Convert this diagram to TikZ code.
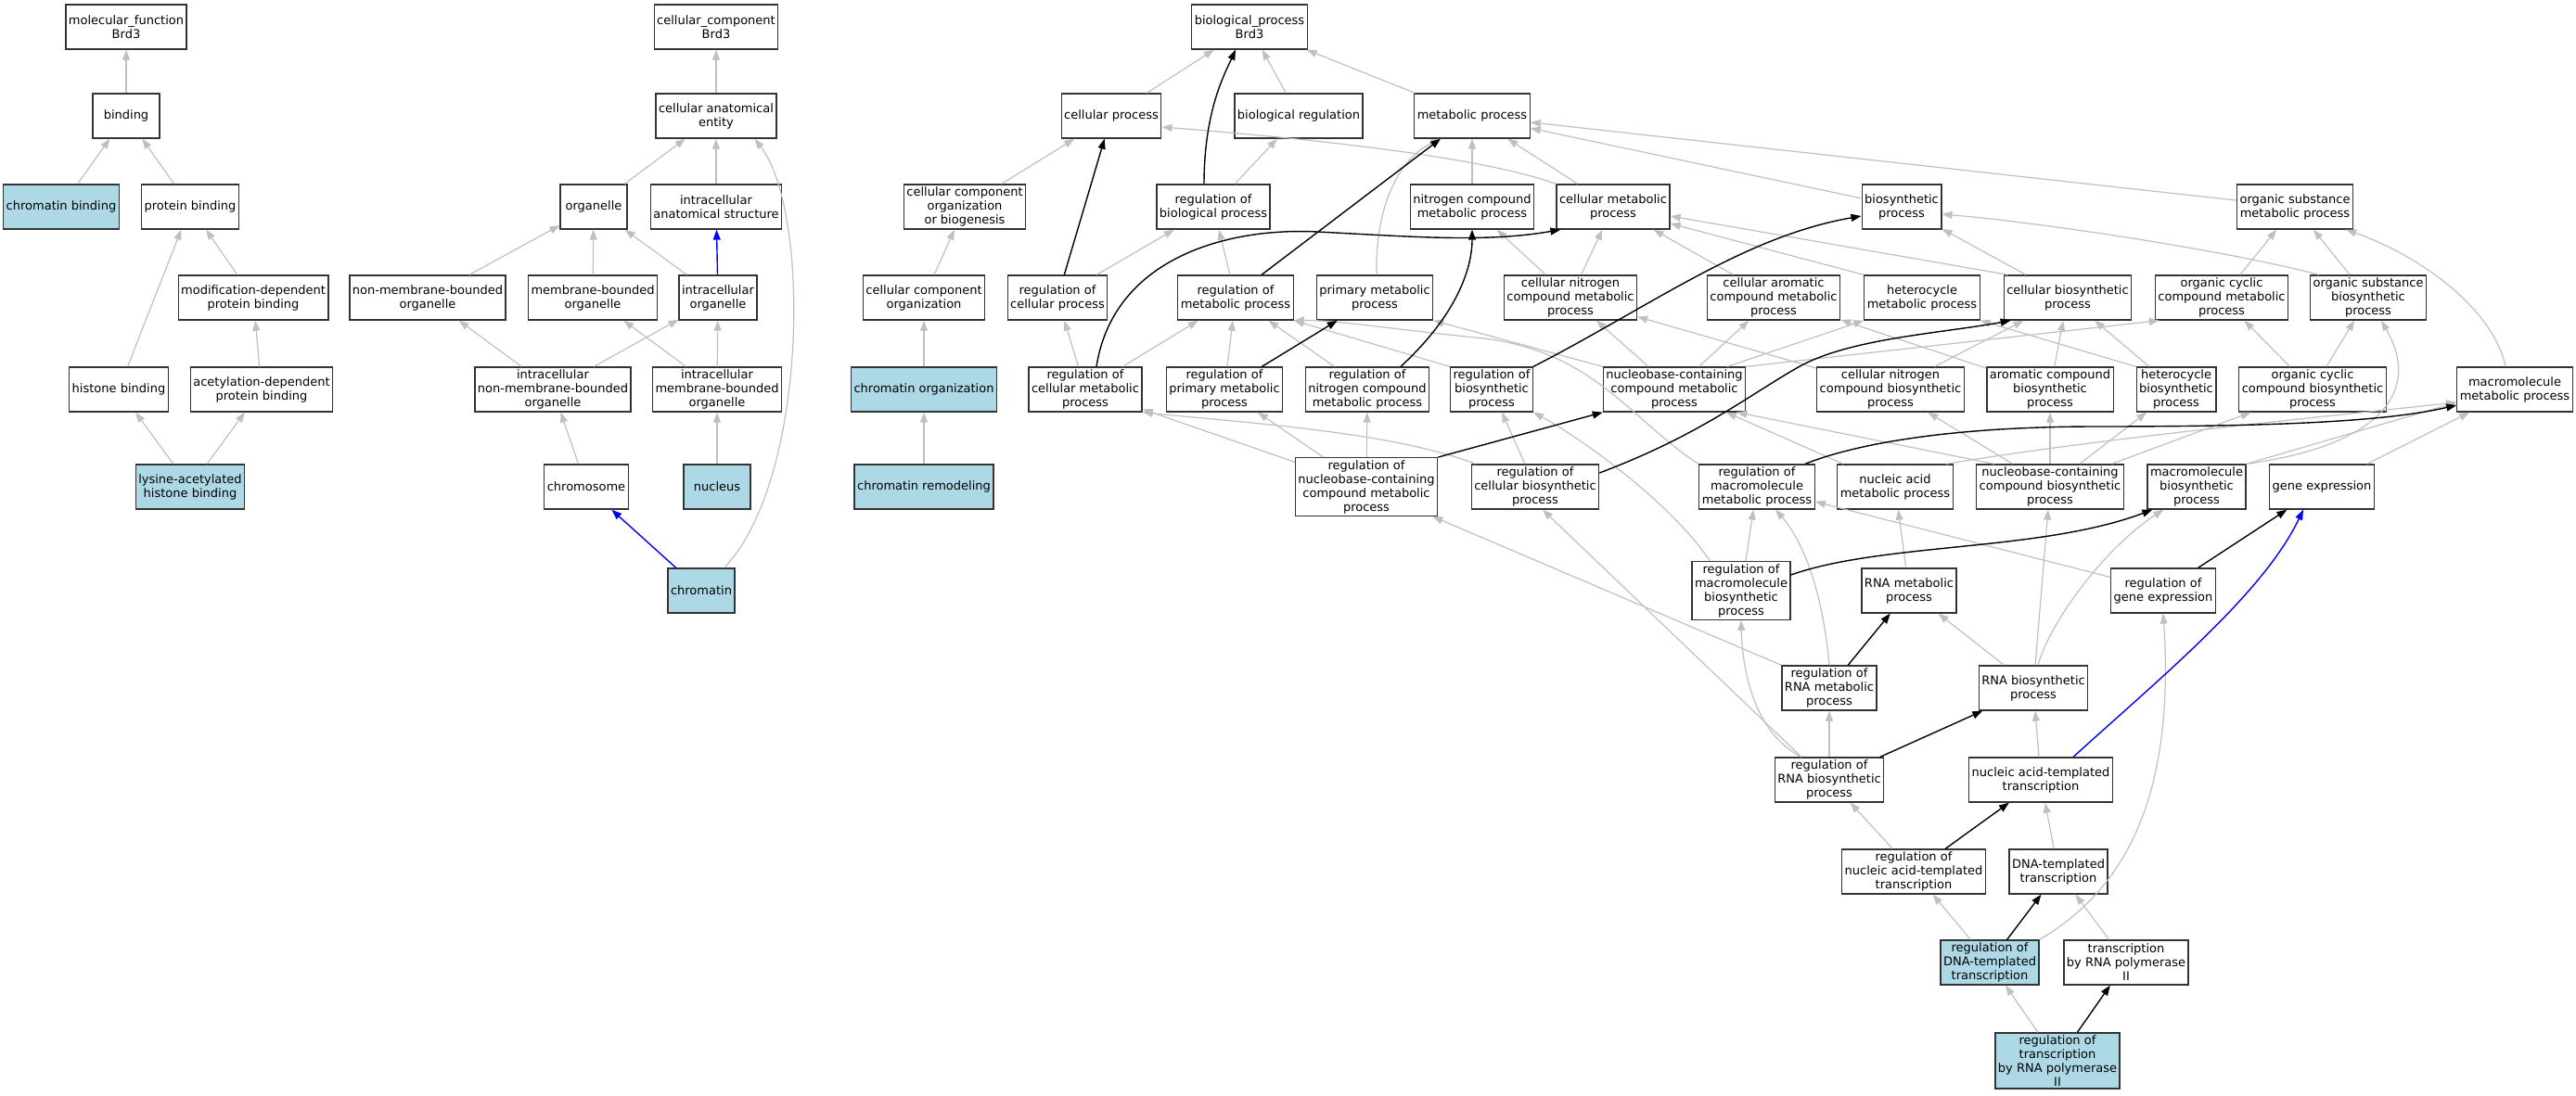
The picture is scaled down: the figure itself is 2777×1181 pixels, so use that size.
\documentclass[tikz,border=0pt]{standalone}
\usepackage{fontspec}
\setmainfont{DejaVu Sans}
\usetikzlibrary{arrows.meta}
\definecolor{hitblue}{HTML}{ADD8E6}
\definecolor{isagray}{HTML}{C0C0C0}
\tikzstyle{term}=[draw=black!80,line width=1.3pt,fill=white,align=center,minimum width=72pt,minimum height=48pt,inner xsep=3pt,inner ysep=2.5pt,font=\fontsize{13pt}{15pt}\selectfont]
\tikzstyle{hit}=[term,fill=hitblue]
\tikzstyle{isa}=[draw=isagray,line width=1.2pt,-{Triangle[length=11pt,width=8pt]}]
\tikzstyle{reg}=[draw=black,line width=1.4pt,-{Triangle[length=11pt,width=8pt]}]
\tikzstyle{partof}=[draw=blue,line width=1.4pt,-{Triangle[length=11pt,width=8pt]}]

\begin{document}
\begin{tikzpicture}[x=1pt,y=-1pt]
    \useasboundingbox (0,0) rectangle (2777,1181);
    % molecular function
    \node[term] (mf) at (136,29) {molecular\_function\\Brd3};
    \node[term] (bind) at (136,125) {binding};
    \node[hit] (chrbind) at (66,223) {chromatin binding};
    \node[term] (protbind) at (205,223) {protein binding};
    \node[term] (moddep) at (273,321) {modification-dependent\\protein binding};
    \node[term] (histbind) at (128,420) {histone binding};
    \node[term] (acetdep) at (282,420) {acetylation-dependent\\protein binding};
    \node[hit] (lysbind) at (205,525) {lysine-acetylated\\histone binding};
    % cellular component
    \node[term] (cc) at (772,29) {cellular\_component\\Brd3};
    \node[term] (cae) at (772,125) {cellular anatomical\\entity};
    \node[term] (organelle) at (640,223) {organelle};
    \node[term] (ias) at (772,223) {intracellular\\anatomical structure};
    \node[term] (nmbo) at (461,321) {non-membrane-bounded\\organelle};
    \node[term] (mbo) at (639,321) {membrane-bounded\\organelle};
    \node[term] (io) at (774,321) {intracellular\\organelle};
    \node[term] (inmbo) at (596,420) {intracellular\\non-membrane-bounded\\organelle};
    \node[term] (imbo) at (773,420) {intracellular\\membrane-bounded\\organelle};
    \node[term] (chromosome) at (632,525) {chromosome};
    \node[hit] (nucleus) at (773,525) {nucleus};
    \node[hit] (chromatin) at (756,637) {chromatin};
    % biological process
    \node[term] (bp) at (1347,29) {biological\_process\\Brd3};
    \node[term] (cp) at (1198,125) {cellular process};
    \node[term] (br) at (1400,125) {biological regulation};
    \node[term] (mp) at (1587,125) {metabolic process};
    \node[term] (ccob) at (1040,223) {cellular component\\organization\\or biogenesis};
    \node[term] (rbp) at (1308,223) {regulation of\\biological process};
    \node[term] (ncmp) at (1587,223) {nitrogen compound\\metabolic process};
    \node[term] (cmp) at (1739,223) {cellular metabolic\\process};
    \node[term] (bsp) at (2050,223) {biosynthetic\\process};
    \node[term] (osmp) at (2474,223) {organic substance\\metabolic process};
    \node[term] (cco) at (996,321) {cellular component\\organization};
    \node[term] (rcp) at (1140,321) {regulation of\\cellular process};
    \node[term] (rmp) at (1332,321) {regulation of\\metabolic process};
    \node[term] (pmp) at (1482,321) {primary metabolic\\process};
    \node[term] (cncmp) at (1693,321) {cellular nitrogen\\compound metabolic\\process};
    \node[term] (cacmp) at (1912,321) {cellular aromatic\\compound metabolic\\process};
    \node[term] (hmp) at (2072,321) {heterocycle\\metabolic process};
    \node[term] (cbp) at (2229,321) {cellular biosynthetic\\process};
    \node[term] (occmp) at (2395,321) {organic cyclic\\compound metabolic\\process};
    \node[term] (osbp) at (2553,321) {organic substance\\biosynthetic\\process};
    \node[hit] (chrorg) at (996,420) {chromatin organization};
    \node[term] (rcmp) at (1170,420) {regulation of\\cellular metabolic\\process};
    \node[term] (rpmp) at (1320,420) {regulation of\\primary metabolic\\process};
    \node[term] (rncmp) at (1474,420) {regulation of\\nitrogen compound\\metabolic process};
    \node[term] (rbsp) at (1608,420) {regulation of\\biosynthetic\\process};
    \node[term] (nccmp) at (1805,420) {nucleobase-containing\\compound metabolic\\process};
    \node[term] (cncbp) at (2038,420) {cellular nitrogen\\compound biosynthetic\\process};
    \node[term] (acbp) at (2210,420) {aromatic compound\\biosynthetic\\process};
    \node[term] (hbp) at (2346,420) {heterocycle\\biosynthetic\\process};
    \node[term] (occbp) at (2493,420) {organic cyclic\\compound biosynthetic\\process};
    \node[term] (mmp) at (2711,420) {macromolecule\\metabolic process};
    \node[hit] (chrrem) at (996,525) {chromatin remodeling};
    \node[term] (rnccmp) at (1473,525) {regulation of\\nucleobase-containing\\compound metabolic\\process};
    \node[term] (rcbp) at (1655,525) {regulation of\\cellular biosynthetic\\process};
    \node[term] (rmmp) at (1894,525) {regulation of\\macromolecule\\metabolic process};
    \node[term] (namp) at (2043,525) {nucleic acid\\metabolic process};
    \node[term] (ncbp) at (2210,525) {nucleobase-containing\\compound biosynthetic\\process};
    \node[term] (mbp) at (2368,525) {macromolecule\\biosynthetic\\process};
    \node[term] (ge) at (2503,525) {gene expression};
    \node[term] (rmbp) at (1877,637) {regulation of\\macromolecule\\biosynthetic\\process};
    \node[term] (rnamp) at (2058,637) {RNA metabolic\\process};
    \node[term] (rge) at (2332,637) {regulation of\\gene expression};
    \node[term] (rrmp) at (1972,742) {regulation of\\RNA metabolic\\process};
    \node[term] (rnabp) at (2192,742) {RNA biosynthetic\\process};
    \node[term] (rrbp) at (1972,841) {regulation of\\RNA biosynthetic\\process};
    \node[term] (natt) at (2200,841) {nucleic acid-templated\\transcription};
    \node[term] (rnatt) at (2063,940) {regulation of\\nucleic acid-templated\\transcription};
    \node[term] (dtt) at (2219,940) {DNA-templated\\transcription};
    \node[hit] (rdtt) at (2145,1038) {regulation of\\DNA-templated\\transcription};
    \node[term] (trp) at (2292,1038) {transcription\\by RNA polymerase\\II};
    \node[hit] (rtrp) at (2218,1144) {regulation of\\transcription\\by RNA polymerase\\II};

    % molecular function edges
    \foreach \a/\b in {bind/mf,chrbind/bind,protbind/bind,histbind/protbind,moddep/protbind,
        acetdep/moddep,lysbind/histbind,lysbind/acetdep}
        \draw[isa] (\a) -- (\b);
    % cellular component edges
    \foreach \a/\b in {cae/cc,organelle/cae,ias/cae,nmbo/organelle,mbo/organelle,io/organelle,
        inmbo/nmbo,inmbo/io,imbo/mbo,imbo/io,chromosome/inmbo,nucleus/imbo}
        \draw[isa] (\a) -- (\b);
    \draw[isa] ([xshift=-12pt]chromatin.north east) .. controls (870,520) and (875,230) .. ([xshift=-24pt]cae.south east);
    \draw[partof] (io) -- (ias);
    \draw[partof] (chromatin) -- (chromosome);
    % biological process edges
    \foreach \a/\b in {cp/bp,br/bp,mp/bp,ccob/cp,rbp/br,cco/ccob,rcp/rbp,rmp/rbp,ncmp/mp,cmp/mp,
        bsp/mp,osmp/mp,chrorg/cco,chrrem/chrorg,rcmp/rcp,rcmp/rmp,rpmp/rmp,rncmp/rmp,
        cncmp/ncmp,cncmp/cmp,cacmp/cmp,cbp/bsp,occmp/osmp,osbp/osmp,nccmp/cncmp,nccmp/cacmp,
        cncbp/cncmp,cncbp/cbp,acbp/cacmp,acbp/cbp,hbp/cbp,occbp/occmp,occbp/osbp,
        rnccmp/rcmp,rnccmp/rpmp,rnccmp/rncmp,rcbp/rbsp,namp/nccmp,ncbp/cncbp,ncbp/acbp,
        ncbp/hbp,ncbp/occbp,ge/mmp,rmbp/rmmp,rge/rmmp,rnamp/namp,rnabp/rnamp,rnabp/ncbp,
        rrbp/rrmp,natt/rnabp,rnatt/rrbp,dtt/natt,rdtt/rnatt,trp/dtt,rtrp/rdtt}
        \draw[isa] (\a) -- (\b);
    \draw[isa] (cmp.north west) .. controls (1600,170) and (1420,150) .. ([yshift=-12pt]cp.east);
    \draw[isa] ([xshift=2pt]pmp.north) .. controls (1482,220) and (1510,170) .. ([xshift=-34pt]mp.south);
    \draw[isa] (rbsp.north west) -- (rmp.south east);
    \draw[isa] (rmmp.north west) .. controls (1760,455) and (1720,380) .. (1600,365) .. controls (1500,355) and (1440,345) .. (rmp.south east);
    \draw[isa] ([xshift=5pt]cbp.north west) -- ([yshift=-10pt]cmp.east);
    \draw[isa] (hmp.north west) -- ([yshift=-18pt]cmp.east);
    \draw[isa] ([xshift=10pt]osbp.north west) .. controls (2400,270) and (2200,240) .. ([yshift=-8pt]bsp.east);
    \draw[isa] ([xshift=-10pt]mmp.north) .. controls (2690,340) and (2620,280) .. ([xshift=-8pt]osmp.south east);
    \draw[isa] (nccmp.north west) -- (pmp.south east);
    \draw[isa] (nccmp.north east) -- ([xshift=5pt]occmp.south west);
    \draw[isa] ([xshift=-20pt]nccmp.north east) -- (hmp.south west);
    \draw[isa] (hbp.north west) -- (hmp.south east);
    \draw[isa] ([xshift=20pt]ncbp.north west) -- ([xshift=-10pt]nccmp.south east);
    \draw[isa] ([xshift=5pt]rcbp.north west) .. controls (1500,465) and (1330,455) .. (rcmp.south east);
    \draw[isa] ([xshift=-8pt]namp.north east) .. controls (2250,475) and (2450,455) .. ([yshift=-14pt]mmp.west);
    \draw[isa] (mbp.north east) -- ([yshift=-14pt]mmp.west);
    \draw[isa] (mbp.north east) .. controls (2570,480) and (2610,420) .. ([xshift=14pt]osbp.south);
    \draw[isa] ([xshift=20pt]rmbp.north west) .. controls (1800,540) and (1700,470) .. (rbsp.south east);
    \draw[isa] (rrmp.north west) -- ([xshift=-6pt]rnccmp.south east);
    \draw[isa] (rrmp.north) .. controls (1965,640) and (1945,585) .. ([xshift=20pt]rmmp.south);
    \draw[isa] ([xshift=5pt]rnabp.north) .. controls (2210,670) and (2270,590) .. ([xshift=18pt]mbp.south west);
    \draw[isa] ([xshift=-30pt]rrbp.north) -- ([xshift=8pt]rcbp.south);
    \draw[isa] ([xshift=-30pt]rrbp.north) .. controls (1890,790) and (1878,720) .. (rmbp.south);
    \draw[isa] (rdtt.north east) .. controls (2290,960) and (2345,860) .. (rge.south);
    % regulates edges
    \foreach \a/\b in {rcp/cp,rpmp/pmp,rge/ge,rrmp/rnamp,rrbp/rnabp,rnatt/natt,rdtt/dtt,rtrp/trp}
        \draw[reg] (\a) -- (\b);
    \draw[reg] ([xshift=-10pt]rbp.north) .. controls (1298,120) and (1320,80) .. ([xshift=-15pt]bp.south);
    \draw[reg] ([xshift=28pt]rmp.north) -- ([xshift=-34pt]mp.south);
    \draw[reg] ([xshift=12pt]rcmp.north) .. controls (1200,280) and (1320,245) .. (1420,250) .. controls (1520,255) and (1600,262) .. ([xshift=5pt]cmp.south west);
    \draw[reg] ([xshift=36pt]rncmp.north) .. controls (1570,340) and (1587,290) .. (ncmp.south);
    \draw[reg] (rbsp.north east) .. controls (1780,330) and (1880,255) .. ([yshift=-10pt]bsp.west);
    \draw[reg] ([yshift=15pt]rcbp.east) .. controls (1830,470) and (1880,430) .. (1935,398) .. controls (1990,365) and (2090,360) .. ([xshift=8pt]cbp.south west);
    \draw[reg] (rnccmp.north east) -- (nccmp.south west);
    \draw[reg] ([xshift=-11pt]rmmp.north east) .. controls (2010,475) and (2120,460) .. (2260,460) .. controls (2450,460) and (2570,455) .. ([yshift=-17pt]mmp.west);
    \draw[reg] ([yshift=17pt]rmbp.east) .. controls (2030,585) and (2200,595) .. ([xshift=6pt]mbp.south west);
    % part of edge
    \draw[partof] ([xshift=35pt]natt.north) .. controls (2330,730) and (2440,640) .. ([xshift=-20pt]ge.south);
\end{tikzpicture}
\end{document}
